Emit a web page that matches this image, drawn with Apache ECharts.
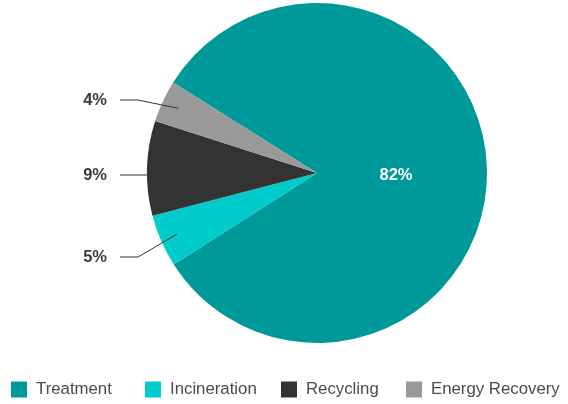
<!DOCTYPE html>
<html>
<head>
<meta charset="utf-8">
<script src="https://cdn.jsdelivr.net/npm/echarts@6/dist/echarts.min.js"></script>
<style>
  html, body { margin: 0; padding: 0; background: #ffffff; }
  #chart { width: 568px; height: 404px; }
</style>
</head>
<body>
<div id="chart"></div>
<script>
// Share of waste by management route (%)
const categories = ['Treatment', 'Incineration', 'Recycling', 'Energy Recovery'];
const shares = [82, 5, 9, 4];
const colors = ['#009999', '#00cccc', '#333333', '#999999'];

const FONT = '"Liberation Sans", Arial, Helvetica, sans-serif';

// Layout: legend item offsets and the row each outside label sits on
const legendLeft = [11, 145, 281, 406];
const labelRowY = [null, 257, 175, 100];
const CENTER = [317, 173];
const RADIUS = 170;
const START_ANGLE = 147.8;
const LABEL_RIGHT = 107;   // right edge of outside label text
const LINE_END_X = 120;    // where each leader line stops
const ELBOW_X = 138;       // where leader lines turn horizontal

const chart = echarts.init(document.getElementById('chart'), null, { renderer: 'canvas' });

const sliceData = categories.map((name, i) => ({
  name, value: shares[i], itemStyle: { color: colors[i] }
}));

// Same values again for the label layer, whose sectors are left unpainted so
// the leader lines can run on top of the coloured slices.
const labelData = categories.map((name, i) => {
  const item = { name, value: shares[i] };
  if (i === 0) {
    item.label = {
      position: 'inside',
      color: '#ffffff',
      fontFamily: FONT,
      fontWeight: 'bold',
      fontSize: 16.5
    };
    item.labelLine = { show: false };
  }
  return item;
});

chart.setOption({
  animation: false,
  backgroundColor: '#ffffff',
  color: colors,
  legend: categories.map((name, i) => ({
    data: [name],
    left: legendLeft[i],
    top: 381,
    padding: 0,
    orient: 'horizontal',
    icon: 'rect',
    itemWidth: 16,
    itemHeight: 16,
    selectedMode: false,
    textStyle: {
      color: '#4a4a4a',
      fontFamily: FONT,
      fontSize: 16.8,
      padding: [3, 0, 0, 4]
    }
  })),
  series: [{
    type: 'pie',
    name: 'slices',
    z: 2,
    center: CENTER,
    radius: RADIUS,
    startAngle: START_ANGLE,
    clockwise: true,
    silent: true,
    label: { show: false },
    labelLine: { show: false },
    data: sliceData
  }, {
    type: 'pie',
    name: 'labels',
    z: 5,
    center: CENTER,
    radius: RADIUS,
    startAngle: START_ANGLE,
    clockwise: true,
    silent: true,
    legendHoverLink: false,
    itemStyle: { color: 'rgba(0,0,0,0)' },
    label: {
      show: true,
      position: 'outside',
      formatter: p => p.value + '%',
      color: '#3a3a3a',
      fontFamily: FONT,
      fontWeight: 'bold',
      fontSize: 16.5
    },
    labelLine: {
      show: true,
      length: 6,
      length2: 22,
      lineStyle: { color: '#333333', width: 1 }
    },
    labelLayout: function (params) {
      if (params.dataIndex === 0) {
        return { dx: -9, dy: 3 };
      }
      const rowY = labelRowY[params.dataIndex];
      if (rowY == null || !params.labelLinePoints) return {};
      // start each leader a little inside the slice, along its mid angle
      const p0 = params.labelLinePoints[0];
      const dx = p0[0] - CENTER[0];
      const dy = p0[1] - CENTER[1];
      const start = [CENTER[0] + dx * 0.9, CENTER[1] + dy * 0.9];
      const straight = Math.abs(dy) < 8;
      const first = straight ? [CENTER[0] - RADIUS + 1, rowY] : start;
      const elbow = straight ? first : [ELBOW_X, rowY];
      return {
        x: LABEL_RIGHT,
        y: rowY,
        align: 'right',
        verticalAlign: 'middle',
        labelLinePoints: [first, elbow, [LINE_END_X, rowY]]
      };
    },
    data: labelData
  }]
});
</script>
</body>
</html>
